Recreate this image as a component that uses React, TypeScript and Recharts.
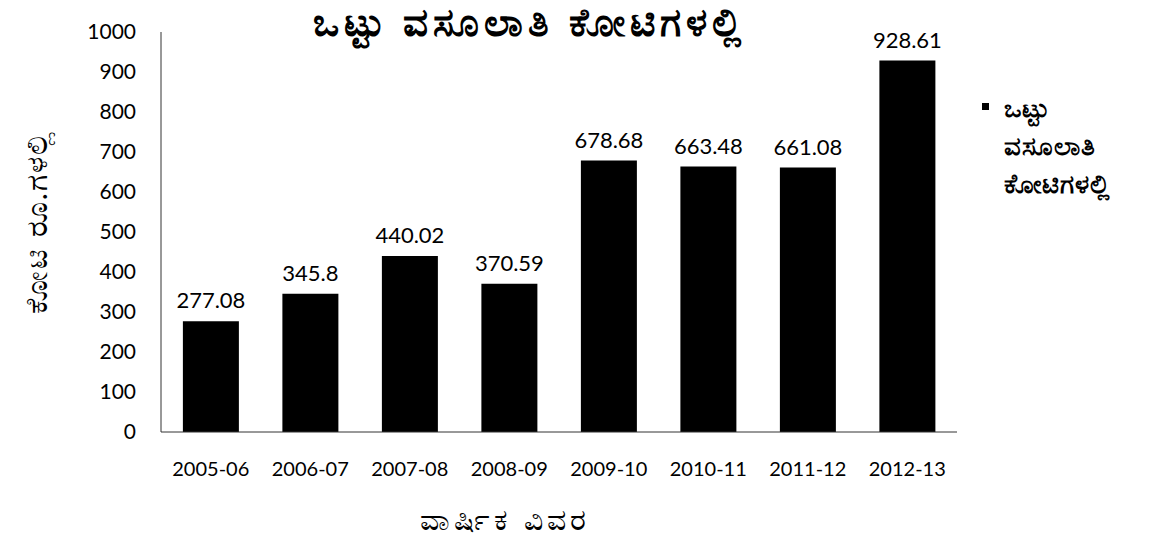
import React from 'react';
import { BarChart, Bar, XAxis, YAxis, Legend, LabelList } from 'recharts';

const years = ['2005-06', '2006-07', '2007-08', '2008-09', '2009-10', '2010-11', '2011-12', '2012-13'];
const collections = [277.08, 345.8, 440.02, 370.59, 678.68, 663.48, 661.08, 928.61];
const yTicks = [0, 100, 200, 300, 400, 500, 600, 700, 800, 900, 1000];

const seriesName = 'ಒಟ್ಟು ವಸೂಲಾತಿ ಕೋಟಿಗಳಲ್ಲಿ';
const title = 'ಒಟ್ಟು ವಸೂಲಾತಿ ಕೋಟಿಗಳಲ್ಲಿ';
const yTitle = 'ಕೋಟಿ ರೂ.ಗಳಲ್ಲಿ';
const xTitle = 'ವಾರ್ಷಿಕ ವಿವರ';

const data = years.map((year, i) => ({ year, value: collections[i] }));

const font = 'Lato, "Noto Sans", sans-serif';

// legend: small square, then the series name split one word per line
const LegendBox = (props: any) => {
  const item = props.payload && props.payload[0];
  if (!item) return null;
  const words = String(item.value).split(' ');
  return (
    <div style={{ position: 'relative', fontFamily: font, fontWeight: 700, fontSize: 26, letterSpacing: 1, color: '#000' }}>
      <div style={{ position: 'absolute', left: 4, top: 11, width: 7, height: 7, background: '#000' }} />
      {words.map((w, i) => (
        <div key={i} style={{ marginLeft: 26, height: 38, lineHeight: '30px' }}>{w}</div>
      ))}
    </div>
  );
};

export default function App() {
  return (
    <div style={{ position: 'absolute', left: 0, top: 0, width: 1160, height: 543, background: '#fff' }}>
      <div style={{ position: 'absolute', left: 230, width: 600, top: -2, textAlign: 'center', fontFamily: font, fontWeight: 700, fontSize: 39, letterSpacing: 5, color: '#000' }}>
        {title}
      </div>
      <div style={{ position: 'absolute', left: 36, top: 222, transform: 'translate(-50%, -50%) rotate(-90deg)', whiteSpace: 'nowrap', fontFamily: font, fontSize: 30, letterSpacing: 2, color: '#000' }}>
        {yTitle}
      </div>
      <div style={{ position: 'absolute', left: 355, width: 300, top: 500, textAlign: 'center', fontFamily: font, fontSize: 30, letterSpacing: 4, color: '#000' }}>
        {xTitle}
      </div>
      <BarChart
        width={1160}
        height={543}
        data={data}
        margin={{ top: 32, right: 23, bottom: 51, left: 0 }}
        barCategoryGap="22%"
        style={{ position: 'absolute', left: 0, top: 0 }}
      >
        <XAxis
          dataKey="year"
          height={60}
          tickLine={false}
          axisLine={{ stroke: '#333' }}
          tickMargin={24}
          tick={{ fill: '#000', fontSize: 20, fontFamily: font }}
          interval={0}
        />
        <YAxis
          width={161}
          domain={[0, 1000]}
          ticks={yTicks}
          tickLine={false}
          axisLine={{ stroke: '#333' }}
          tickMargin={19}
          tick={{ fill: '#000', fontSize: 21, fontFamily: font }}
        />
        <Legend
          layout="vertical"
          align="right"
          verticalAlign="top"
          content={LegendBox}
          wrapperStyle={{ left: 978, top: 92, width: 180 }}
        />
        <Bar dataKey="value" name={seriesName} fill="#000" isAnimationActive={false}>
          <LabelList dataKey="value" position="top" offset={13} style={{ fill: '#000', fontSize: 22, fontFamily: font }} />
        </Bar>
      </BarChart>
    </div>
  );
}
